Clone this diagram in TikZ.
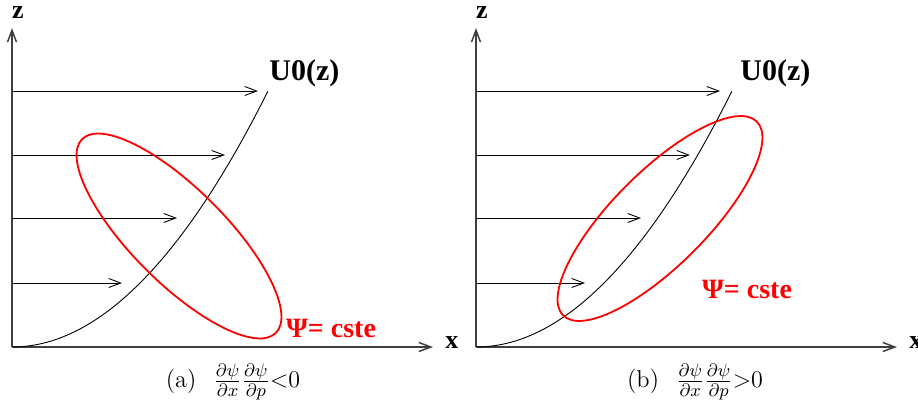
\documentclass[tikz,border=0pt]{standalone}
\usepackage{amsmath}
\usepackage{fontspec}
\usepackage{tikz}
\usetikzlibrary{arrows.meta}
\newfontfamily\labfont{Liberation Serif}

\tikzset{
  axis/.style={draw=black!75, line width=0.75pt, -{Straight Barb[length=6pt,width=4.5pt]}},
  flow/.style={draw=black, line width=0.45pt, -{Straight Barb[length=6pt,width=4.5pt]}},
  psi/.style={draw=red, line width=0.9pt},
  lab/.style={font=\labfont\bfseries\fontsize{13}{15}\selectfont, inner sep=0pt},
  ulab/.style={font=\labfont\bfseries\fontsize{15}{17}\selectfont, inner sep=0pt},
  psilab/.style={font=\labfont\bfseries\fontsize{14}{16}\selectfont, text=red, inner sep=0pt},
  capt/.style={font=\fontsize{12.2}{14}\selectfont, inner sep=0pt},
}

\begin{document}
\begin{tikzpicture}[x=0.5pt, y=0.5pt]
    \useasboundingbox (0,0) rectangle (918,409);

    % Left panel: dpsi/dx dpsi/dp < 0
    \begin{scope}[shift={(12,62)}]
        \coordinate (oa) at (0,0);
        \coordinate (ca) at (167,111);
        \node[lab] (za) at (6,334) {z};
        \node[lab, anchor=west] (xa) at (433,4) {x};
        \draw[axis] (oa) -- (0,319);
        \draw[axis] (oa) -- (421,0);
        % velocity profile
        \foreach \z/\u in {256/246, 192/213, 129/165, 64/110}
            \draw[flow] (0,\z) -- (\u,\z);
        \draw[line width=0.45pt] plot[domain=0:1, samples=60, smooth] ({256*\x},{256*\x*\x});
        \node[ulab, anchor=west] (ua) at (257,274) {U0(z)};
        % iso-psi line
        \draw[psi, rotate around={-45:(ca)}] (ca) ellipse [x radius=137, y radius=47];
        \node[psilab] (pa) at (319,19) {Ψ= cste};
        \node[capt] (capa) at (221,-35) {(a)\hspace{0.7em}$\frac{\partial\psi}{\partial x}\frac{\partial\psi}{\partial p}{<}0$};
    \end{scope}

    % Right panel: dpsi/dx dpsi/dp > 0
    \begin{scope}[shift={(476,62)}]
        \coordinate (ob) at (0,0);
        \coordinate (cb) at (184,128.5);
        \node[lab] (zb) at (6,334) {z};
        \node[lab, anchor=west] (xb) at (433,4) {x};
        \draw[axis] (ob) -- (0,319);
        \draw[axis] (ob) -- (421,0);
        % velocity profile
        \foreach \z/\u in {256/244, 192/214, 129/165, 64/109}
            \draw[flow] (0,\z) -- (\u,\z);
        \draw[line width=0.45pt] plot[domain=0:1, samples=60, smooth] ({256*\x},{256*\x*\x});
        \node[ulab, anchor=west] (ub) at (264,274) {U0(z)};
        % iso-psi line
        \draw[psi, rotate around={45:(cb)}] (cb) ellipse [x radius=137, y radius=47];
        \node[psilab] (pb) at (271,58) {Ψ= cste};
        \node[capt] (capb) at (219,-35) {(b)\hspace{0.7em}$\frac{\partial\psi}{\partial x}\frac{\partial\psi}{\partial p}{>}0$};
    \end{scope}
\end{tikzpicture}
\end{document}
